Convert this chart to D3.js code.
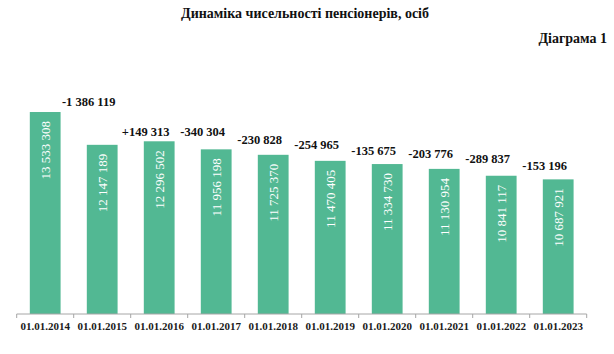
<!DOCTYPE html>
<html><head><meta charset="utf-8">
<script src="https://cdn.jsdelivr.net/npm/d3@7"></script>
<style>body{margin:0;background:#fff}svg{display:block}svg text{font-family:"Liberation Serif","Times New Roman",serif}</style>
</head><body>
<svg id="c" width="614" height="354"></svg>
<script>
const categories = ["01.01.2014","01.01.2015","01.01.2016","01.01.2017","01.01.2018","01.01.2019","01.01.2020","01.01.2021","01.01.2022","01.01.2023"];
const pensioners = [13533308,12147189,12296502,11956198,11725370,11470405,11334730,11130954,10841117,10687921];
const changes = ["-1 386 119","+149 313","-340 304","-230 828","-254 965","-135 675","-203 776","-289 837","-153 196"];
const title = "Динаміка чисельності пенсіонерів, осіб";
const subtitle = "Діаграма 1";

const svg = d3.select("#c");
const fmt = v => d3.format(",")(v).replace(/,/g, " ");

const x0 = 16.7, x1 = 586.7, base = 314;
const x = d3.scaleBand().domain(categories).range([x0, x1]).paddingInner(0.46).paddingOuter(0.23);
const y = d3.scaleLinear().domain([5000000, 15000000]).range([base, 77.3]);
const step = x.step();

svg.append("text").attr("x", 305).attr("y", 18).attr("text-anchor", "middle")
  .attr("font-weight", "bold").attr("font-size", 14).attr("fill", "#111").text(title);
svg.append("text").attr("x", 607).attr("y", 43).attr("text-anchor", "end")
  .attr("font-weight", "bold").attr("font-size", 14).attr("fill", "#111").text(subtitle);

svg.selectAll("rect.bar").data(pensioners).join("rect").attr("class", "bar")
  .attr("x", (d, i) => x(categories[i])).attr("width", x.bandwidth())
  .attr("y", d => y(d)).attr("height", d => base - y(d))
  .attr("fill", "#52B893");

svg.selectAll("text.val").data(pensioners).join("text").attr("class", "val")
  .attr("transform", (d, i) => `translate(${x(categories[i]) + x.bandwidth() / 2},${y(d) + 9}) rotate(-90)`)
  .attr("text-anchor", "end").attr("dy", "0.35em")
  .attr("font-size", 13).attr("fill", "#fff")
  .text(d => fmt(d));

// change labels sit just right of the boundary between bar i and bar i+1
svg.selectAll("text.chg").data(changes).join("text").attr("class", "chg")
  .attr("x", (d, i) => x0 + (i + 1) * step + 15)
  .attr("y", (d, i) => Math.min(y(pensioners[i]), y(pensioners[i + 1])) - 10)
  .attr("dy", "0.35em").attr("text-anchor", "middle")
  .attr("font-weight", "bold").attr("font-size", 12.5).attr("fill", "#111")
  .text(d => d);

const gAxis = svg.append("g").attr("transform", `translate(0,${base})`);
gAxis.append("line").attr("x1", x0).attr("x2", x1).attr("stroke", "#A6A6A6").attr("stroke-width", 1);
gAxis.selectAll("line.tk").data(d3.range(categories.length + 1)).join("line").attr("class", "tk")
  .attr("x1", i => x0 + i * step).attr("x2", i => x0 + i * step).attr("y1", 0).attr("y2", 4).attr("stroke", "#A6A6A6");
svg.append("g").attr("transform", `translate(0,${base})`)
  .call(d3.axisBottom(x).tickSize(0).tickPadding(0))
  .call(g => g.select(".domain").remove())
  .selectAll("text").attr("y", 12).attr("dy", "0.35em")
  .attr("font-family", null)
  .attr("font-weight", "bold").attr("font-size", 11).attr("fill", "#1a1a1a");
svg.selectAll(".tick text").style("font-family", "'Liberation Serif','Times New Roman',serif");
</script>
</body></html>
